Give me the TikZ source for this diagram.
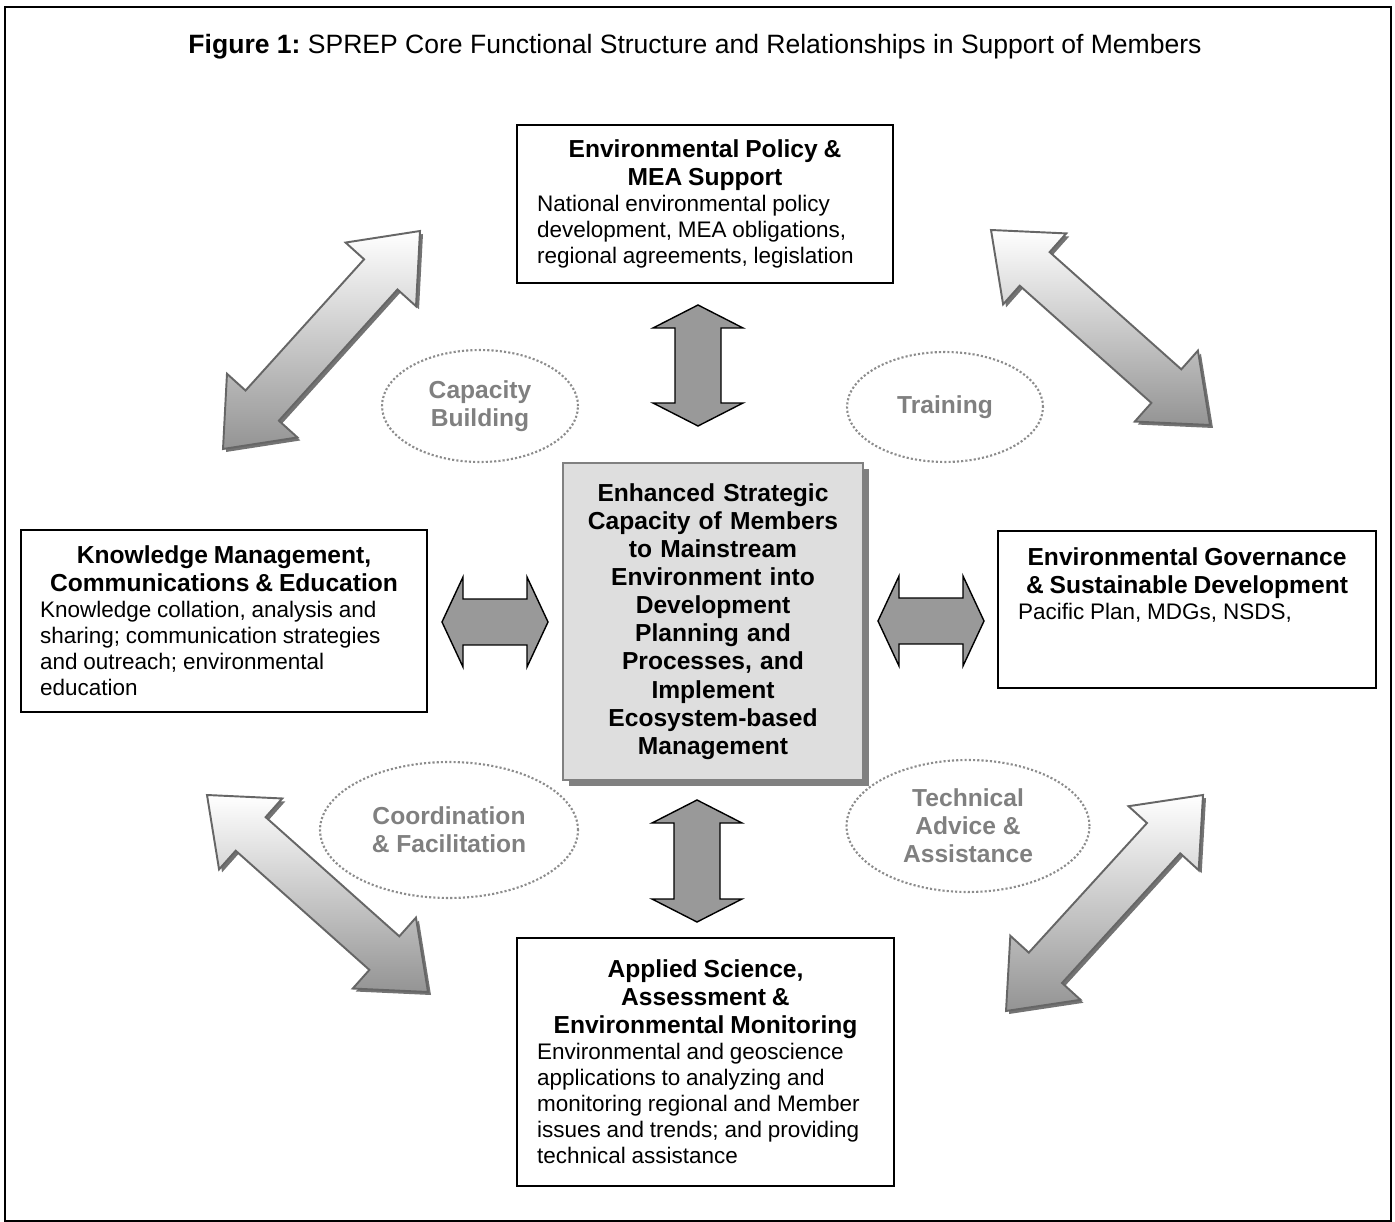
\documentclass[tikz,border=0pt]{standalone}
\usepackage{fontspec}
\setmainfont{Liberation Sans}
\usetikzlibrary{calc,shapes.geometric,shadows}
\frenchspacing

\newcommand{\headsize}{\fontsize{14}{16}\selectfont\bfseries}
\newcommand{\bodysize}{\fontsize{12.8}{14.8}\selectfont}
% double block arrow: ends, head length, head half width, shaft half width, style
\newcommand{\fatarrow}[6]{%
  \path[#6] (#1)
    -- ($(#1)!#3!(#2)!#4!90:(#2)$) -- ($(#1)!#3!(#2)!#5!90:(#2)$)
    -- ($(#2)!#3!(#1)!#5!-90:(#1)$) -- ($(#2)!#3!(#1)!#4!-90:(#1)$)
    -- (#2)
    -- ($(#2)!#3!(#1)!#4!90:(#1)$) -- ($(#2)!#3!(#1)!#5!90:(#1)$)
    -- ($(#1)!#3!(#2)!#5!-90:(#2)$) -- ($(#1)!#3!(#2)!#4!-90:(#2)$)
    -- cycle;}

\tikzset{
  unitbox/.style={draw=black, line width=0.9pt, fill=white, inner xsep=0.4cm, inner ysep=0pt},
  corebox/.style={draw=black!50, line width=0.8pt, fill=black!13, text width=5.6cm, align=center,
    minimum width=6cm, minimum height=6.34cm, font=\headsize,
    drop shadow={shadow xshift=0.12cm, shadow yshift=-0.12cm, fill=black!50, opacity=1}},
  bubble/.style={ellipse, draw=black!45, line width=1.2pt, dash pattern=on 1.2pt off 1.2pt,
    text=black!50, font=\headsize, align=center, inner sep=0pt},
  bigarrow/.style={top color=white, bottom color=black!42, draw=black!60, line width=1.1pt},
  bigshade/.style={fill=black!55, transform canvas={shift={(0.06cm,-0.06cm)}}},
  flatarrow/.style={fill=black!40, draw=black, line width=0.8pt}
}

\begin{document}
\begin{tikzpicture}[x=0.02cm, y=-0.02cm]
   \useasboundingbox (0,0) rectangle (1395,1222);
   \draw [line width=0.9pt] (5,7) rectangle (1391,1221);
   \node (title) at (695,47) {\fontsize{15.1}{18}\selectfont\textbf{Figure 1:} SPREP Core Functional Structure and Relationships in Support of Members};

   % boxes
   \node [unitbox, text width=6.72cm, minimum height=3.16cm] (policy) at (705,204)
     {{\centering\headsize Environmental Policy \&\\ MEA Support\par}
      {\raggedright\bodysize National environmental policy\\ development, MEA obligations,\\ regional agreements, legislation\par}};
   \node [unitbox, text width=7.36cm, inner xsep=0.38cm, minimum height=3.64cm] (knowledge) at (224,621)
     {{\centering\headsize Knowledge Management,\\ Communications \& Education\par}
      {\raggedright\bodysize Knowledge collation, analysis and\\ sharing; communication strategies\\ and outreach; environmental\\ education\par}};
   \node [unitbox, text width=6.76cm, minimum height=3.14cm] (governance) at (1187,609.5)
     {{\centering\headsize Environmental Governance\\ \& Sustainable Development\par}
      {\raggedright\bodysize Pacific Plan, MDGs, NSDS,\\ \mbox{}\\ \mbox{}\par}};
   \node [unitbox, text width=6.74cm, minimum height=4.96cm] (science) at (705.5,1062)
     {{\centering\headsize Applied Science,\\ Assessment \&\\ Environmental Monitoring\par}
      {\raggedright\bodysize Environmental and geoscience\\ applications to analyzing and\\ monitoring regional and Member\\ issues and trends; and providing\\ technical assistance\par}};
   \node [corebox] (core) at (713,621.5)
     {Enhanced Strategic\\ Capacity of Members\\ to Mainstream\\ Environment into\\ Development\\ Planning and\\ Processes, and\\ Implement\\ Ecosystem-based\\ Management};

   % ellipses
   \node [bubble, minimum width=3.92cm, minimum height=2.24cm] (capacity) at (480,406) {Capacity\\ Building};
   \node [bubble, minimum width=3.92cm, minimum height=2.2cm] (training) at (945,407) {Training};
   \node [bubble, minimum width=5.16cm, minimum height=2.72cm] (coord) at (449,830) {Coordination\\ \& Facilitation};
   \node [bubble, minimum width=4.86cm, minimum height=2.64cm] (advice) at (968,826) {Technical\\ Advice \&\\ Assistance};

   % straight arrows
   \coordinate (up1) at (698,305);  \coordinate (up2) at (698,426);
   \coordinate (dn1) at (697,800);  \coordinate (dn2) at (697,922);
   \coordinate (lf1) at (442,622);  \coordinate (lf2) at (548,622);
   \coordinate (rt1) at (878,621);  \coordinate (rt2) at (984,621);
   \fatarrow{up1}{up2}{0.46cm}{0.9cm}{0.46cm}{flatarrow}
   \fatarrow{dn1}{dn2}{0.46cm}{0.9cm}{0.46cm}{flatarrow}
   \fatarrow{lf1}{lf2}{0.42cm}{0.9cm}{0.46cm}{flatarrow}
   \fatarrow{rt1}{rt2}{0.42cm}{0.9cm}{0.46cm}{flatarrow}

   % diagonal arrows
   \coordinate (tl1) at (420,231);  \coordinate (tl2) at (223,449);
   \coordinate (tr1) at (991,230);  \coordinate (tr2) at (1210,425);
   \coordinate (bl1) at (207,795);  \coordinate (bl2) at (428,992);
   \coordinate (br1) at (1203,795); \coordinate (br2) at (1006,1011);
   \foreach \a/\b in {tl1/tl2, tr1/tr2, bl1/bl2, br1/br2} {
     \fatarrow{\a}{\b}{1.17cm}{0.95cm}{0.45cm}{bigshade}
     \fatarrow{\a}{\b}{1.17cm}{0.95cm}{0.45cm}{bigarrow}
   }
\end{tikzpicture}
\end{document}
